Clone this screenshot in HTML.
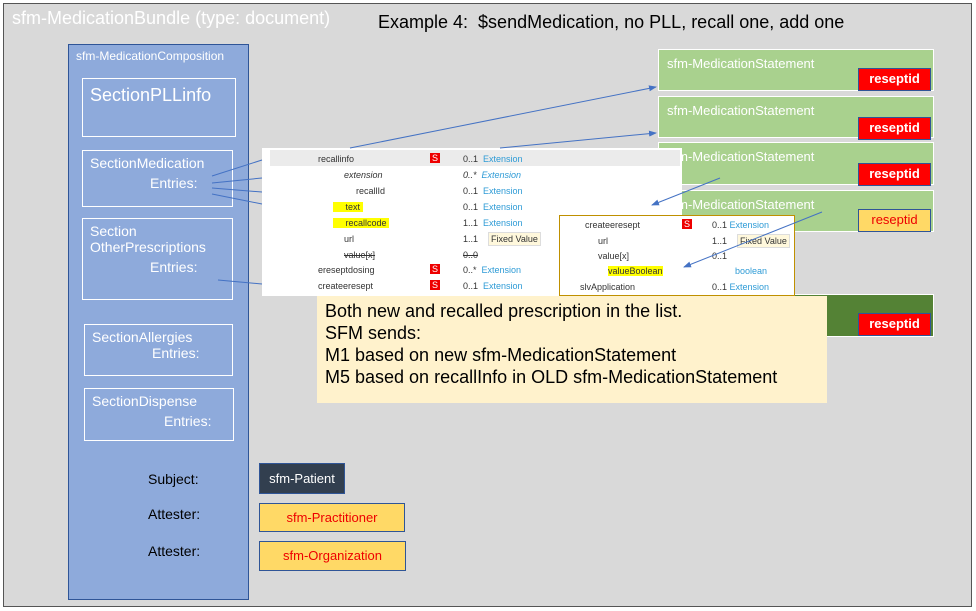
<!DOCTYPE html>
<html><head><meta charset="utf-8"><style>
body{margin:0;width:976px;height:611px;position:relative;font-family:"Liberation Sans",sans-serif;overflow:hidden;background:#fff}
.a{position:absolute;box-sizing:border-box}
.sec{border:1.5px solid #fff;color:#fff;font-size:14px;padding:4px 7px}
.g{background:#a9d18e;border:1px solid #fff;color:#fff;font-size:13px;padding:6px 8px}
.r{background:#f00;border:1.5px solid #2f5597;color:#fff;font-size:13px;font-weight:bold;text-align:center;line-height:20px}
.t{font-size:9px;color:#333;position:absolute}
.c{color:#2e9bd6}
.s{background:#e00;color:#fff;padding:0 2px;font-size:9px}
.hl{background:#ffff00}
</style></head><body>
<div class="a" style="left:3px;top:3px;width:969px;height:604px;background:#d9d9d9;border:1px solid #555"></div>
<div class="a" style="left:12px;top:8px;color:#fff;font-size:18px">sfm-MedicationBundle (type: document)</div>
<div class="a" style="left:378px;top:12px;color:#000;font-size:18px">Example 4:&nbsp; $sendMedication, no PLL, recall one, add one</div>

<div class="a" style="left:68px;top:44px;width:181px;height:556px;background:#8eaadb;border:1px solid #2f5597"></div>
<div class="a" style="left:76px;top:49px;color:#fff;font-size:12px">sfm-MedicationComposition</div>
<div class="a sec" style="left:82px;top:78px;width:154px;height:59px;font-size:18px;padding:6px 7px">SectionPLLinfo</div>
<div class="a sec" style="left:82px;top:150px;width:151px;height:57px">SectionMedication<div style="padding-left:60px;margin-top:4px">Entries:</div></div>
<div class="a sec" style="left:82px;top:218px;width:151px;height:82px">Section<br>OtherPrescriptions<div style="padding-left:60px;margin-top:4px">Entries:</div></div>
<div class="a sec" style="left:84px;top:324px;width:149px;height:52px">SectionAllergies<div style="padding-left:60px;margin-top:0">Entries:</div></div>
<div class="a sec" style="left:84px;top:388px;width:150px;height:53px">SectionDispense<div style="padding-left:72px;margin-top:4px">Entries:</div></div>
<div class="a" style="left:148px;top:471px;color:#000;font-size:14px">Subject:</div>
<div class="a" style="left:148px;top:506px;color:#000;font-size:14px">Attester:</div>
<div class="a" style="left:148px;top:543px;color:#000;font-size:14px">Attester:</div>
<div class="a" style="left:259px;top:463px;width:86px;height:31px;background:#323f4f;border:1px solid #2f5597;color:#fff;font-size:13px;text-align:center;line-height:29px">sfm-Patient</div>
<div class="a" style="left:259px;top:503px;width:146px;height:29px;background:#ffd966;border:1px solid #2f5597;color:#e00;font-size:13px;text-align:center;line-height:27px">sfm-Practitioner</div>
<div class="a" style="left:259px;top:541px;width:147px;height:30px;background:#ffd966;border:1px solid #2f5597;color:#e00;font-size:13px;text-align:center;line-height:28px">sfm-Organization</div>

<div class="a g" style="left:658px;top:49px;width:276px;height:42px">sfm-MedicationStatement</div>
<div class="a g" style="left:658px;top:96px;width:276px;height:42px">sfm-MedicationStatement</div>
<div class="a g" style="left:658px;top:142px;width:276px;height:43px">sfm-MedicationStatement</div>
<div class="a g" style="left:658px;top:190px;width:276px;height:42px">sfm-MedicationStatement</div>
<div class="a g" style="left:658px;top:294px;width:276px;height:43px;background:#548235"></div>
<div class="a r" style="left:858px;top:68px;width:73px;height:23px">reseptid</div>
<div class="a r" style="left:858px;top:117px;width:73px;height:23px">reseptid</div>
<div class="a r" style="left:858px;top:163px;width:73px;height:23px">reseptid</div>
<div class="a r" style="left:858px;top:209px;width:73px;height:23px;background:#ffd966;color:#e00;font-weight:normal">reseptid</div>
<div class="a r" style="left:858px;top:313px;width:73px;height:23px">reseptid</div>

<div class="a" style="left:262px;top:148px;width:420px;height:148px;background:#fff"></div>
<div class="a" style="left:270px;top:150px;width:410px;height:16px;background:#ebebeb"></div>
<div class="t" style="left:318px;top:154px">recallinfo</div><div class="t" style="left:430px;top:153px"><span class="s">S</span></div><div class="t" style="left:463px;top:154px">0..1 <span class="c">&nbsp;Extension</span></div>
<div class="t" style="left:344px;top:170px;font-style:italic">extension</div><div class="t" style="left:463px;top:170px;font-style:italic">0..* <span class="c">&nbsp;Extension</span></div>
<div class="t" style="left:356px;top:186px">recallId</div><div class="t" style="left:463px;top:186px">0..1 <span class="c">&nbsp;Extension</span></div>
<div class="t" style="left:333px;top:202px"><span class="hl">&nbsp;&nbsp;&nbsp;&nbsp;&nbsp;text&nbsp;</span></div><div class="t" style="left:463px;top:202px">0..1 <span class="c">&nbsp;Extension</span></div>
<div class="t" style="left:333px;top:218px"><span class="hl">&nbsp;&nbsp;&nbsp;&nbsp;&nbsp;recallcode&nbsp;</span></div><div class="t" style="left:463px;top:218px">1..1 <span class="c">&nbsp;Extension</span></div>
<div class="t" style="left:344px;top:234px">url</div><div class="t" style="left:463px;top:234px">1..1</div><div class="t" style="left:488px;top:232px;background:#fff8dc;border:1px solid #ddd;padding:1px 2px">Fixed Value</div>
<div class="t" style="left:344px;top:250px;text-decoration:line-through">value[x]</div><div class="t" style="left:463px;top:250px;text-decoration:line-through">0..0</div>
<div class="t" style="left:318px;top:265px">ereseptdosing</div><div class="t" style="left:430px;top:264px"><span class="s">S</span></div><div class="t" style="left:463px;top:265px">0..* <span class="c">&nbsp;Extension</span></div>
<div class="t" style="left:318px;top:281px">createeresept</div><div class="t" style="left:430px;top:280px"><span class="s">S</span></div><div class="t" style="left:463px;top:281px">0..1 <span class="c">&nbsp;Extension</span></div>

<div class="a" style="left:559px;top:215px;width:236px;height:81px;background:#fff;border:1px solid #bf9000"></div>
<div class="t" style="left:585px;top:220px">createeresept</div><div class="t" style="left:682px;top:219px"><span class="s">S</span></div><div class="t" style="left:712px;top:220px">0..1 <span class="c">Extension</span></div>
<div class="t" style="left:598px;top:236px">url</div><div class="t" style="left:712px;top:236px">1..1</div><div class="t" style="left:737px;top:234px;background:#fff8dc;border:1px solid #ddd;padding:1px 2px">Fixed Value</div>
<div class="t" style="left:598px;top:251px">value[x]</div><div class="t" style="left:712px;top:251px">0..1</div>
<div class="t" style="left:608px;top:266px"><span class="hl">valueBoolean</span></div><div class="t c" style="left:735px;top:266px">boolean</div>
<div class="t" style="left:580px;top:282px">slvApplication</div><div class="t" style="left:712px;top:282px">0..1 <span class="c">Extension</span></div>

<div class="a" style="left:317px;top:296px;width:510px;height:107px;background:#fff2cc;color:#000;font-size:18px;line-height:22px;padding:4px 8px">Both new and recalled prescription in the list.<br>SFM sends:<br>M1 based on new sfm-MedicationStatement<br>M5 based on recallInfo in OLD sfm-MedicationStatement</div>

<svg class="a" style="left:0;top:0" width="976" height="611"><defs><marker id="m" markerWidth="8" markerHeight="8" refX="7" refY="4" orient="auto"><path d="M0,1L8,4L0,7z" fill="#4472c4"/></marker></defs>
<g stroke="#4472c4" stroke-width="1" fill="none">
<line x1="350" y1="148" x2="656" y2="87" marker-end="url(#m)"/>
<line x1="500" y1="148" x2="656" y2="133" marker-end="url(#m)"/>
<line x1="720" y1="178" x2="652" y2="205" marker-end="url(#m)"/>
<line x1="822" y1="212" x2="684" y2="267" marker-end="url(#m)"/>
<line x1="212" y1="176" x2="262" y2="160"/><line x1="212" y1="183" x2="262" y2="178"/><line x1="212" y1="188" x2="262" y2="192"/><line x1="212" y1="194" x2="262" y2="204"/>
<line x1="218" y1="280" x2="262" y2="284"/>
</g></svg>
</body></html>
